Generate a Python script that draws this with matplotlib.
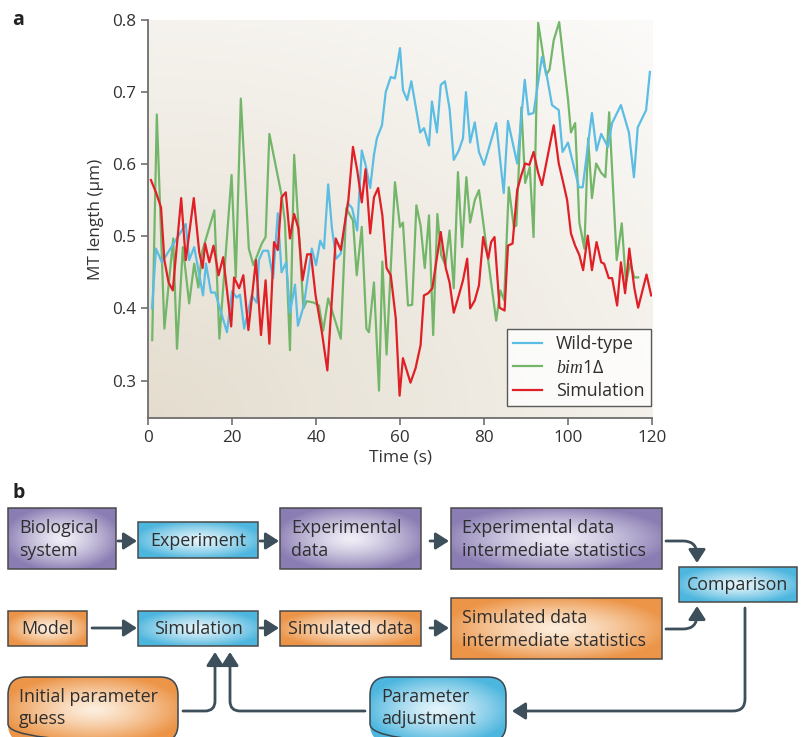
import numpy as np
import matplotlib
matplotlib.use("Agg")
import matplotlib.pyplot as plt
from matplotlib.patches import FancyBboxPatch, FancyArrowPatch
from matplotlib.path import Path as MPath

plt.rcParams["font.family"] = ["Open Sans", "DejaVu Sans"]
plt.rcParams["mathtext.fontset"] = "custom"
plt.rcParams["mathtext.it"] = "Liberation Serif:italic"
plt.rcParams["mathtext.rm"] = "Open Sans"

# ---- panel a data (time in s, MT length in um) ----
wt_t = [0.95, 1.9, 3.3, 9.0, 9.8, 11.0, 13.1, 13.8, 15.0, 16.0, 18.8, 20.0, 21.1, 21.9, 22.9,
        24.7, 25.9, 26.4, 27.4, 28.6, 29.8, 30.9, 31.8, 32.9, 33.8, 35.0, 35.7, 37.1, 39.0,
        40.0, 41.0, 41.9, 42.9, 43.8, 44.8, 45.9, 47.6, 48.6, 49.8, 50.9, 51.8, 52.9, 53.8,
        54.5, 55.7, 56.6, 57.8, 58.8, 60.0, 60.7, 61.7, 62.7, 64.8, 65.7, 66.9, 67.6, 68.8,
        69.7, 70.7, 71.8, 72.8, 74.0, 75.0, 75.7, 76.7, 77.8, 78.8, 80.0, 82.9, 84.7, 85.7,
        87.9, 89.7, 90.6, 91.8, 93.8, 95.0, 96.2, 97.8, 98.7, 100.0, 102.6, 103.5, 105.7,
        106.8, 107.9, 109.5, 110.5, 112.6, 114.5, 115.7, 116.6, 118.6, 119.5]
wt_len = [0.40, 0.483, 0.464, 0.517, 0.467, 0.485, 0.418, 0.462, 0.422, 0.422, 0.367, 0.424,
          0.415, 0.419, 0.372, 0.418, 0.408, 0.467, 0.480, 0.48, 0.442, 0.532, 0.45, 0.464,
          0.394, 0.433, 0.376, 0.404, 0.483, 0.46, 0.494, 0.483, 0.572, 0.511, 0.469, 0.476,
          0.546, 0.539, 0.508, 0.619, 0.599, 0.567, 0.613, 0.636, 0.654, 0.70, 0.721, 0.719,
          0.761, 0.703, 0.689, 0.715, 0.644, 0.65, 0.626, 0.687, 0.644, 0.71, 0.715, 0.677,
          0.606, 0.619, 0.636, 0.70, 0.63, 0.658, 0.617, 0.599, 0.657, 0.56, 0.66, 0.601,
          0.717, 0.669, 0.671, 0.749, 0.721, 0.682, 0.675, 0.617, 0.63, 0.568, 0.568, 0.671,
          0.619, 0.642, 0.624, 0.657, 0.682, 0.644, 0.582, 0.651, 0.675, 0.728]

bim_t = [1.0, 2.1, 3.9, 6.0, 6.9, 8.3, 9.8, 11.0, 12.0, 12.9, 15.8, 17.0, 19.9, 20.9, 22.1,
         24.0, 25.1, 27.1, 28.0, 28.9, 31.8, 32.6, 33.8, 34.8, 37.0, 37.8, 39.5, 40.7, 41.7,
         42.9, 45.9, 47.2, 48.8, 49.7, 50.9, 52.0, 52.6, 53.8, 55.0, 55.8, 56.8, 58.8, 60.0,
         60.7, 61.9, 62.9, 63.9, 64.9, 65.9, 66.9, 67.9, 68.9, 69.8, 70.8, 71.8, 72.8, 73.8,
         74.8, 75.8, 76.7, 77.8, 78.8, 80.0, 81.0, 82.9, 83.9, 84.8, 85.9, 87.1, 87.7, 88.9,
         89.8, 90.9, 91.8, 92.9, 94.8, 95.6, 96.6, 97.9, 99.0, 100.0, 100.7, 101.7, 102.7,
         103.9, 104.8, 105.7, 106.7, 107.9, 108.9, 109.8, 111.6, 112.8, 113.8, 114.8, 115.8,
         116.7]
bim_len = [0.356, 0.669, 0.372, 0.497, 0.344, 0.485, 0.407, 0.462, 0.429, 0.479, 0.536, 0.358,
           0.585, 0.443, 0.691, 0.483, 0.46, 0.49, 0.499, 0.642, 0.557, 0.52, 0.342, 0.613,
           0.40, 0.41, 0.408, 0.404, 0.369, 0.414, 0.358, 0.539, 0.522, 0.446, 0.513, 0.372,
           0.367, 0.436, 0.286, 0.465, 0.336, 0.575, 0.513, 0.519, 0.404, 0.405, 0.543, 0.515,
           0.456, 0.529, 0.363, 0.531, 0.474, 0.46, 0.508, 0.428, 0.589, 0.485, 0.582, 0.519,
           0.55, 0.564, 0.511, 0.467, 0.383, 0.425, 0.411, 0.568, 0.513, 0.515, 0.679, 0.574,
           0.596, 0.499, 0.796, 0.724, 0.731, 0.772, 0.797, 0.74, 0.69, 0.644, 0.657, 0.519,
           0.483, 0.636, 0.553, 0.601, 0.588, 0.582, 0.672, 0.467, 0.518, 0.435, 0.462, 0.443,
           0.443]

sim_t = [0.7, 1.9, 3.1, 3.9, 4.9, 5.9, 7.9, 9.0, 10.9, 12.2, 13.0, 13.6, 14.6, 15.6, 16.8,
         17.9, 19.8, 20.5, 21.7, 22.7, 23.9, 25.7, 26.9, 28.0, 28.9, 30.0, 30.9, 31.8, 32.8,
         33.8, 34.8, 35.8, 36.8, 37.9, 38.8, 39.9, 41.4, 42.7, 44.7, 45.9, 47.7, 48.8, 49.8,
         50.9, 51.8, 52.9, 53.8, 54.8, 55.8, 56.8, 57.8, 59.0, 59.9, 60.7, 62.5, 63.7, 64.9,
         65.7, 66.7, 67.7, 69.7, 70.9, 71.8, 72.8, 74.0, 75.0, 76.0, 76.7, 77.8, 78.8, 79.8,
         81.0, 81.7, 82.5, 83.7, 84.9, 85.7, 86.8, 87.9, 88.9, 89.8, 90.8, 91.8, 92.9, 93.8,
         96.6, 97.8, 99.0, 99.8, 100.7, 101.7, 102.7, 103.6, 104.7, 105.7, 106.8, 107.9,
         108.6, 109.7, 110.5, 111.7, 112.6, 113.6, 114.6, 115.8, 116.7, 118.7, 119.8]
sim_len = [0.578, 0.561, 0.54, 0.467, 0.436, 0.425, 0.553, 0.467, 0.553, 0.478, 0.456, 0.49,
           0.464, 0.487, 0.446, 0.471, 0.375, 0.443, 0.428, 0.446, 0.37, 0.467, 0.363, 0.439,
           0.351, 0.492, 0.481, 0.554, 0.561, 0.497, 0.531, 0.511, 0.439, 0.475, 0.475, 0.418,
           0.367, 0.314, 0.497, 0.481, 0.55, 0.624, 0.592, 0.547, 0.593, 0.504, 0.554, 0.567,
           0.529, 0.456, 0.446, 0.386, 0.279, 0.331, 0.297, 0.317, 0.349, 0.418, 0.421, 0.428,
           0.506, 0.456, 0.436, 0.394, 0.418, 0.439, 0.469, 0.40, 0.411, 0.432, 0.499, 0.469,
           0.492, 0.499, 0.401, 0.397, 0.487, 0.49, 0.564, 0.585, 0.601, 0.599, 0.617, 0.588,
           0.571, 0.654, 0.601, 0.571, 0.55, 0.504, 0.487, 0.474, 0.453, 0.501, 0.453, 0.492,
           0.464, 0.462, 0.442, 0.442, 0.404, 0.464, 0.421, 0.483, 0.428, 0.401, 0.447, 0.418]

x_ticks = [0, 20, 40, 60, 80, 100, 120]
y_ticks = [0.3, 0.4, 0.5, 0.6, 0.7, 0.8]

# ---- panel b flowchart (boxes in pixel coords: x0, y0, x1, y1) ----
boxes = [
    ("Biological\nsystem", (8, 508, 116, 569), "purple", False),
    ("Experiment", (138, 522, 258, 558), "blue", False),
    ("Experimental\ndata", (280, 508, 421, 569), "purple", False),
    ("Experimental data\nintermediate statistics", (451, 508, 662, 569), "purple", False),
    ("Comparison", (679, 567, 797, 602), "blue", False),
    ("Model", (8, 611, 87, 646), "orange", False),
    ("Simulation", (138, 611, 258, 646), "blue", False),
    ("Simulated data", (280, 611, 421, 646), "orange", False),
    ("Simulated data\nintermediate statistics", (451, 598, 662, 659), "orange", False),
    ("Initial parameter\nguess", (8, 677, 178, 742), "orange", True),
    ("Parameter\nadjustment", (370, 677, 506, 742), "blue", True),
]
box_colors = {
    "purple": ("#f1eef7", "#8a7db3"),
    "blue": ("#e4f4fb", "#4db6de"),
    "orange": ("#fdeedd", "#ec9447"),
}

W, H = 805, 737
fig = plt.figure(figsize=(W / 100, H / 100), dpi=100)

# ----- panel b -----
axb = fig.add_axes([0, 0, 1, 1])
axb.set_xlim(0, W)
axb.set_ylim(H, 0)
axb.axis("off")

gx, gy = np.meshgrid(np.linspace(-1, 1, 120), np.linspace(-1, 1, 60))
rr = np.clip(np.sqrt(gx ** 2 + gy ** 2) / 1.1, 0, 1) ** 1.3


def hex_rgb(h):
    return np.array(matplotlib.colors.to_rgb(h))


for label, (x0, y0, x1, y1), col, rounded in boxes:
    c_in, c_out = hex_rgb(box_colors[col][0]), hex_rgb(box_colors[col][1])
    img = c_in[None, None, :] * (1 - rr[..., None]) + c_out[None, None, :] * rr[..., None]
    if rounded:
        patch = FancyBboxPatch((x0, y0), x1 - x0, y1 - y0,
                               boxstyle="round,pad=0,rounding_size=18",
                               facecolor="none", edgecolor="#3b4650", lw=1.1, zorder=3)
    else:
        patch = FancyBboxPatch((x0, y0), x1 - x0, y1 - y0, boxstyle="square,pad=0",
                               facecolor="none", edgecolor="#4a4a4a", lw=1.1, zorder=3)
    axb.add_patch(patch)
    im = axb.imshow(img, extent=(x0, x1, y1, y0), aspect="auto", zorder=2,
                    interpolation="bilinear")
    im.set_clip_path(patch)
    multi = "\n" in label
    axb.text(x0 + 11 if multi else (x0 + x1) / 2, (y0 + min(y1, 737)) / 2 + 1,
             label, ha="left" if multi else "center", va="center",
             fontsize=12.9, color="#2e2e2e", linespacing=1.3, zorder=4)

arrow_col = "#3d4f5b"
arr_kw = dict(arrowstyle="-|>,head_length=5,head_width=3.2", color=arrow_col, lw=2.0,
              shrinkA=0, shrinkB=0, zorder=5, mutation_scale=1.6)


def straight(x0, y0, x1, y1):
    axb.add_patch(FancyArrowPatch((x0, y0), (x1, y1), **arr_kw))


def elbow(p_start, corner, p_end, r=10):
    (xs, ys), (xc, yc), (xe, ye) = p_start, corner, p_end
    d1 = np.array([xc - xs, yc - ys], float)
    d1 /= np.linalg.norm(d1)
    d2 = np.array([xe - xc, ye - yc], float)
    d2 /= np.linalg.norm(d2)
    a = (xc - d1[0] * r, yc - d1[1] * r)
    b = (xc + d2[0] * r, yc + d2[1] * r)
    path = MPath([p_start, a, (xc, yc), b, p_end],
                 [MPath.MOVETO, MPath.LINETO, MPath.CURVE3, MPath.CURVE3, MPath.LINETO])
    axb.add_patch(FancyArrowPatch(path=path, **arr_kw))


straight(118, 541, 137, 541)
straight(260, 541, 279, 541)
straight(430, 541, 449, 541)
straight(92, 628, 137, 628)
straight(260, 628, 279, 628)
straight(430, 628, 449, 628)
elbow((666, 541), (697, 541), (697, 563), r=14)
elbow((666, 629), (697, 629), (697, 606), r=14)
elbow((183, 711), (215, 711), (215, 652), r=10)
elbow((365, 711), (230, 711), (230, 652), r=10)
elbow((745, 608), (745, 711), (512, 711), r=12)

fig.text(12 / W, 1 - 20 / H, "a", fontsize=14, fontweight="bold", va="center", ha="left",
         color="#222222")
fig.text(12 / W, 1 - 493 / H, "b", fontsize=14, fontweight="bold", va="center", ha="left",
         color="#222222")

# ----- panel a -----
ax = fig.add_axes([148 / W, 1 - 418 / H, 504 / W, 398 / H])
ax.set_xlim(0, 120)
ax.set_ylim(0.248, 0.8)
ax.patch.set_alpha(0)

bx, by = np.meshgrid(np.linspace(0, 1, 200), np.linspace(0, 1, 200))
rb = np.clip(np.sqrt((bx * 1.0) ** 2 + ((1 - by) * 1.1) ** 2) / 1.45, 0, 1)
c_dark, c_light = hex_rgb("#e4ddcf"), hex_rgb("#fbfaf8")
bg = c_dark[None, None, :] * (1 - rb[..., None]) + c_light[None, None, :] * rb[..., None]
ax.imshow(bg, extent=(0, 120, 0.248, 0.8), aspect="auto", zorder=0, origin="upper",
          interpolation="bilinear")

ax.plot(wt_t, wt_len, color="#5bbde4", lw=1.6, label="Wild-type", zorder=3)
ax.plot(bim_t, bim_len, color="#73b66a", lw=1.6, label=r"$\mathit{bim1}$Δ", zorder=2)
ax.plot(sim_t, sim_len, color="#e01f26", lw=1.6, label="Simulation", zorder=4)

for s in ["top", "right"]:
    ax.spines[s].set_visible(False)
for s in ["left", "bottom"]:
    ax.spines[s].set_color("#6e6e6e")
    ax.spines[s].set_linewidth(1.3)
ax.set_xticks(x_ticks)
ax.set_yticks(y_ticks)
ax.set_yticklabels([f"{v:.1f}" for v in y_ticks])
ax.tick_params(direction="out", length=5, width=1.2, color="#6e6e6e", labelsize=12.3,
               labelcolor="#333333")
ax.set_xlabel("Time (s)", fontsize=12.5, color="#333333", labelpad=3)
ax.set_ylabel("MT length (μm)", fontsize=12.3, color="#333333", labelpad=6)

leg = ax.legend(loc="lower right", bbox_to_anchor=(0.998, 0.03), borderaxespad=0.0,
                fontsize=12.8, frameon=True, fancybox=False, handlelength=1.6,
                borderpad=0.35, labelspacing=0.3, handletextpad=0.8)
leg.get_frame().set_edgecolor("#333333")
leg.get_frame().set_linewidth(1.0)
for t in leg.get_texts():
    t.set_color("#2e2e2e")

fig.savefig("out.png", dpi=100)
